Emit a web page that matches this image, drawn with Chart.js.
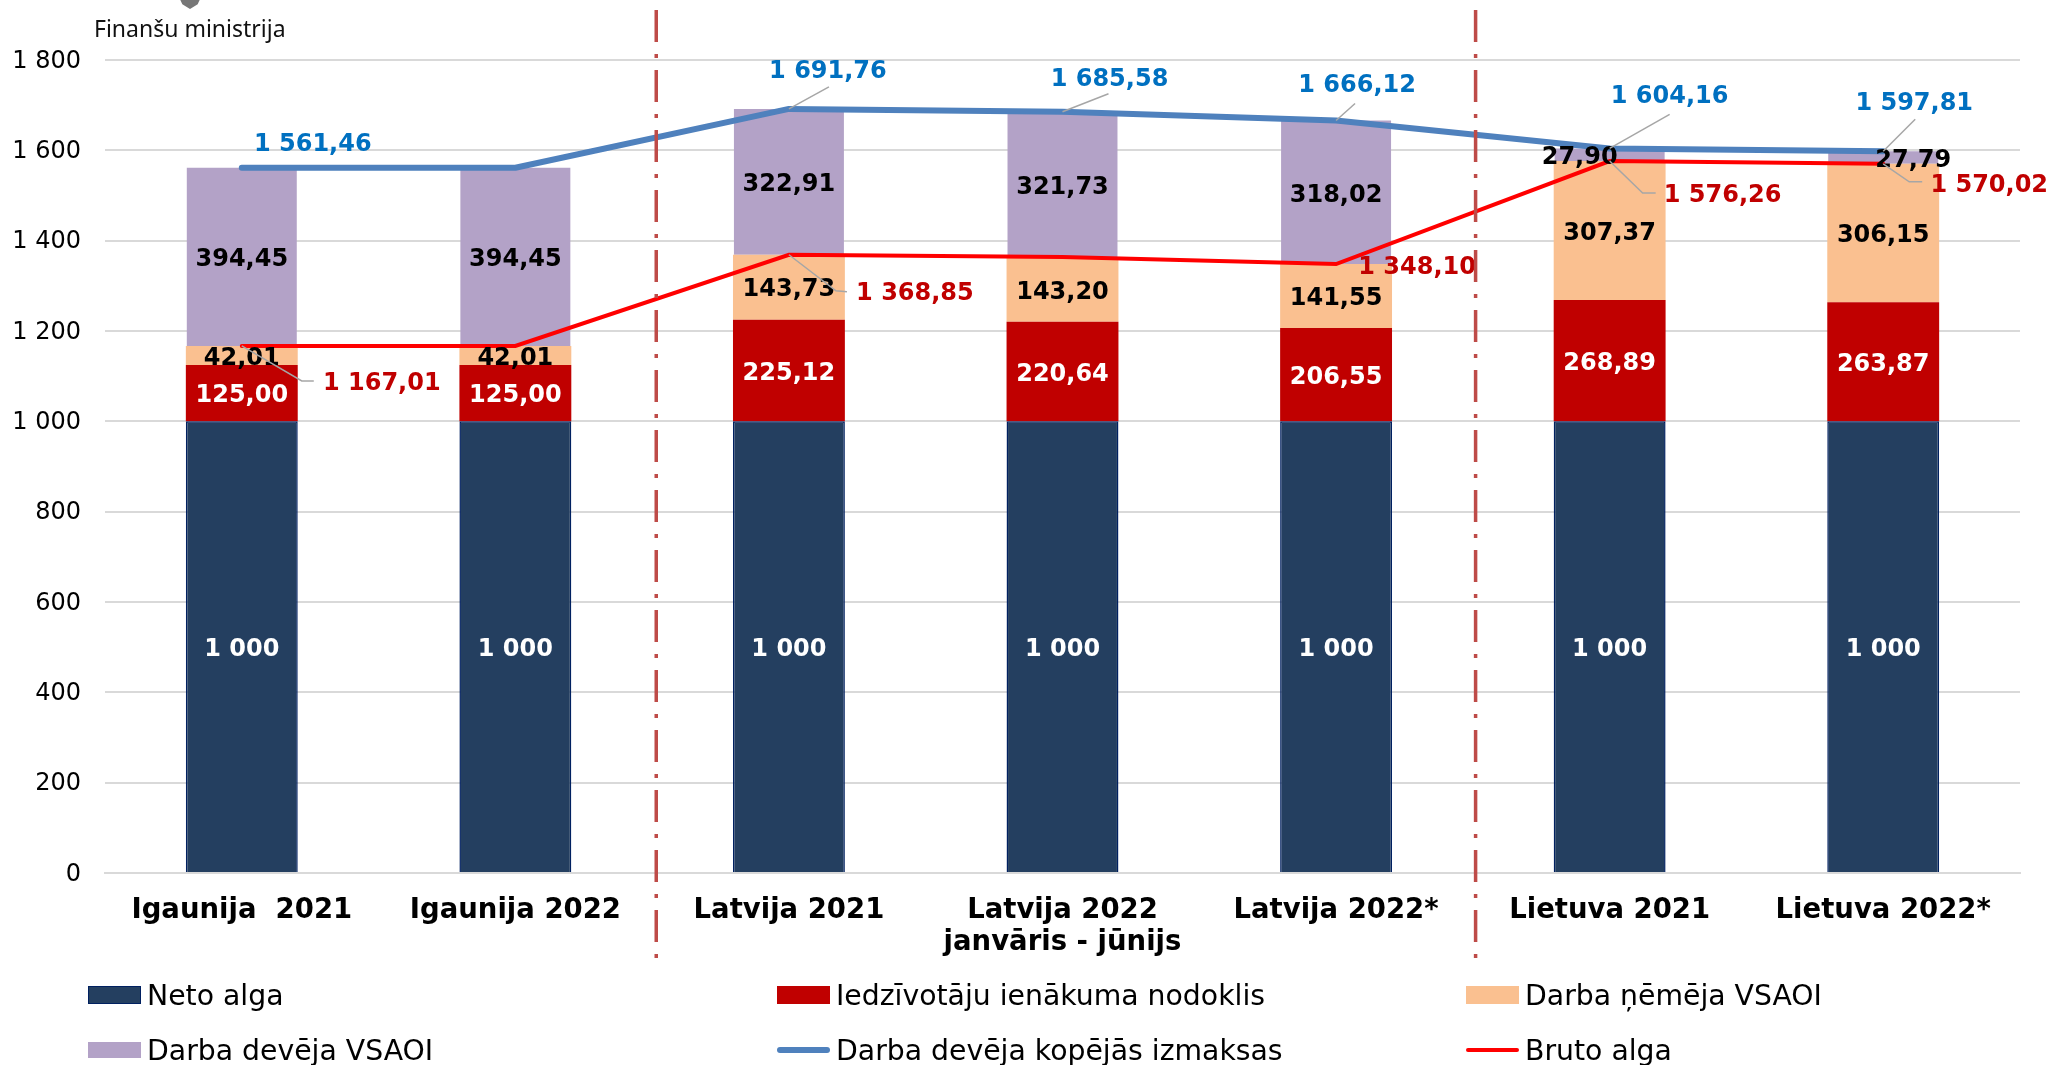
<!DOCTYPE html>
<html lang="lv">
<head>
<meta charset="utf-8">
<title>Darbaspēka izmaksas</title>
<script src="https://cdn.jsdelivr.net/npm/chart.js@4/dist/chart.umd.min.js"></script>
<style>
  html, body { margin: 0; padding: 0; background: #fff; }
  #wrap { position: relative; width: 2054px; height: 1065px; overflow: hidden; font-family: "DejaVu Sans", sans-serif; }
  #chart { position: absolute; left: 0; top: 0; }
  #brand { position: absolute; left: 94px; top: 12px; font: 23px "Noto Sans", sans-serif; color: #111; }
  #crest { position: absolute; left: 179px; top: -3px; width: 22px; height: 12px; background: #777; clip-path: polygon(0 0, 100% 0, 85% 60%, 50% 100%, 15% 60%); }
  .legend-item { position: absolute; display: flex; align-items: center; font-size: 28.3px; color: #000; height: 40px; white-space: nowrap; }
  .legend-item i { display: block; width: 53px; margin-right: 6px; }
</style>
</head>
<body>
<div id="wrap">
  <canvas id="chart" width="2054" height="1065"></canvas>
  <div id="crest"></div>
  <div id="brand">Finanšu ministrija</div>
  <div id="legend"></div>
</div>
<script>
const categories = [
  "Igaunija  2021",
  "Igaunija 2022",
  "Latvija 2021",
  ["Latvija 2022", "janvāris - jūnijs"],
  "Latvija 2022*",
  "Lietuva 2021",
  "Lietuva 2022*"
];
const netoAlga = [1000, 1000, 1000, 1000, 1000, 1000, 1000];
const iin = [125.00, 125.00, 225.12, 220.64, 206.55, 268.89, 263.87];
const darbaNemejs = [42.01, 42.01, 143.73, 143.20, 141.55, 307.37, 306.15];
const darbaDevejs = [394.45, 394.45, 322.91, 321.73, 318.02, 27.90, 27.79];
const kopejasIzmaksas = [1561.46, 1561.46, 1691.76, 1685.58, 1666.12, 1604.16, 1597.81];
const brutoAlga = [1167.01, 1167.01, 1368.85, 1363.84, 1348.10, 1576.26, 1570.02];
const yTicks = [0, 200, 400, 600, 800, 1000, 1200, 1400, 1600, 1800];

// label offsets from the line point, null = no label in the original
const blueOffsets = [[71, -23], null, [39, -37], [47, -32], [21, -35], [60, -52], [31, -48]];
const redOffsets = [[140, 38], null, [126, 39], null, [81, 4], [113, 35], [106, 22]];
const blueLeaders = [null, null, [[40, -22]], [[46, -18]], [[19, -17]], [[60, -34]], [[32, -32]]];
const redLeaders = [[[60, 35], [72, 35]], null, [[47, 36], [58, 37]], null, null, [[33, 32], [46, 32]], [[26, 18], [39, 18]]];

const FONT = '"DejaVu Sans", sans-serif';
const NAVY = "#243F60";
const RED = "#C00000";
const PEACH = "#FAC090";
const LILAC = "#B3A2C7";
const BLUE_LINE = "#4F81BD";
const RED_LINE = "#FF0000";

function formatNumber(v, decimals) {
  const parts = v.toFixed(decimals).split(".");
  parts[0] = parts[0].replace(/\B(?=(\d{3})+(?!\d))/g, " ");
  return parts.join(",");
}

const labelsPlugin = {
  id: "labelsPlugin",
  afterDatasetsDraw(chart) {
    const { ctx, scales: { x, y } } = chart;
    ctx.save();
    ctx.textAlign = "center";
    ctx.textBaseline = "middle";
    ctx.font = "bold 24px " + FONT;

    // values inside the stacked bars
    let base = netoAlga.map(() => 0);
    [[netoAlga, "#fff"], [iin, "#fff"], [darbaNemejs, "#000"], [darbaDevejs, "#000"]].forEach(([values, color]) => {
      values.forEach((v, i) => {
        let dx = 0;
        if (values === darbaDevejs && i === 5) dx = -30;
        if (values === darbaDevejs && i === 6) dx = 30;
        const cy = y.getPixelForValue(base[i] + v / 2) + 3;
        ctx.fillStyle = color;
        ctx.fillText(values === netoAlga ? formatNumber(v, 0) : formatNumber(v, 2), x.getPixelForValue(i) + dx, cy);
        base[i] += v;
      });
    });

    // leader lines and labels for the two lines
    const drawLineLabels = (values, offsets, leaders, color) => {
      values.forEach((v, i) => {
        const px = x.getPixelForValue(i);
        const py = y.getPixelForValue(v);
        if (leaders[i]) {
          ctx.beginPath();
          ctx.strokeStyle = "#A6A6A6";
          ctx.lineWidth = 1.5;
          ctx.moveTo(px, py);
          leaders[i].forEach(([dx, dy]) => ctx.lineTo(px + dx, py + dy));
          ctx.stroke();
        }
      });
      values.forEach((v, i) => {
        if (!offsets[i]) return;
        ctx.fillStyle = color;
        ctx.fillText(formatNumber(v, 2), x.getPixelForValue(i) + offsets[i][0], y.getPixelForValue(v) + offsets[i][1]);
      });
    };
    drawLineLabels(kopejasIzmaksas, blueOffsets, blueLeaders, "#0070C0");
    drawLineLabels(brutoAlga, redOffsets, redLeaders, RED);

    // dash-dot separators between the countries
    ctx.strokeStyle = "#BE4B48";
    ctx.lineWidth = 3.5;
    ctx.setLineDash([32, 12, 4, 12]);
    [1.515, 4.51].forEach((pos) => {
      const sx = x.getPixelForValue(pos);
      ctx.beginPath();
      ctx.moveTo(sx, 10);
      ctx.lineTo(sx, 959);
      ctx.stroke();
    });
    ctx.restore();
  }
};

const barDefaults = { type: "bar", stack: "s", barPercentage: 0.409, categoryPercentage: 1, order: 2 };

new Chart(document.getElementById("chart"), {
  type: "bar",
  plugins: [labelsPlugin],
  data: {
    labels: categories,
    datasets: [
      { ...barDefaults, label: "Neto alga", data: netoAlga, backgroundColor: NAVY, borderColor: "#002060", borderWidth: 1.5 },
      { ...barDefaults, label: "Iedzīvotāju ienākuma nodoklis", data: iin, backgroundColor: RED },
      { ...barDefaults, label: "Darba ņēmēja VSAOI", data: darbaNemejs, backgroundColor: PEACH },
      { ...barDefaults, barPercentage: 0.402, label: "Darba devēja VSAOI", data: darbaDevejs, backgroundColor: LILAC },
      { type: "line", stack: "kopa", label: "Darba devēja kopējās izmaksas", data: kopejasIzmaksas, borderColor: BLUE_LINE, borderWidth: 6, pointRadius: 0, tension: 0, borderCapStyle: "round", borderJoinStyle: "round", order: 1 },
      { type: "line", stack: "bruto", label: "Bruto alga", data: brutoAlga, borderColor: RED_LINE, borderWidth: 4, pointRadius: 0, tension: 0, borderCapStyle: "round", order: 0 }
    ]
  },
  options: {
    responsive: false,
    animation: false,
    layout: { padding: { top: 60, right: 34, left: 0, bottom: 0 } },
    plugins: { legend: { display: false }, tooltip: { enabled: false } },
    scales: {
      x: {
        stacked: true,
        afterFit(scale) { scale.height = 192; },
        grid: { display: false },
        border: { color: "#D9D9D9", width: 2 },
        ticks: { color: "#000", padding: 14, maxRotation: 0, autoSkip: false, font: { family: FONT, size: 27.5, weight: "bold", lineHeight: 1.15 } }
      },
      y: {
        stacked: true,
        min: 0,
        max: 1800,
        afterFit(scale) { scale.width = 105; },
        afterBuildTicks(scale) { scale.ticks = yTicks.map((value) => ({ value })); },
        grid: { color: "#D9D9D9", lineWidth: 2, drawTicks: false },
        border: { display: false },
        ticks: { color: "#000", padding: 24, labelOffset: 1.5, font: { family: FONT, size: 24 }, callback: (v) => formatNumber(v, 0) }
      }
    }
  }
});

// legend placed by hand: three columns, two rows as in the original
const legendItems = [
  ["Neto alga", NAVY, 88, 975, 18, "#002060"],
  ["Iedzīvotāju ienākuma nodoklis", RED, 777, 975, 18],
  ["Darba ņēmēja VSAOI", PEACH, 1466, 975, 18],
  ["Darba devēja VSAOI", LILAC, 88, 1030, 16],
  ["Darba devēja kopējās izmaksas", BLUE_LINE, 777, 1030, 6],
  ["Bruto alga", RED_LINE, 1466, 1030, 4]
];
const legendBox = document.getElementById("legend");
legendItems.forEach(([text, color, left, top, h, edge]) => {
  const item = document.createElement("div");
  item.className = "legend-item";
  item.style.left = left + "px";
  item.style.top = top + "px";
  const swatch = document.createElement("i");
  swatch.style.height = h + "px";
  swatch.style.background = color;
  if (edge) { swatch.style.outline = "1.5px solid " + edge; swatch.style.outlineOffset = "-1.5px"; }
  if (h < 10) swatch.style.borderRadius = "3px";
  item.appendChild(swatch);
  item.appendChild(document.createTextNode(text));
  legendBox.appendChild(item);
});
</script>
</body>
</html>
